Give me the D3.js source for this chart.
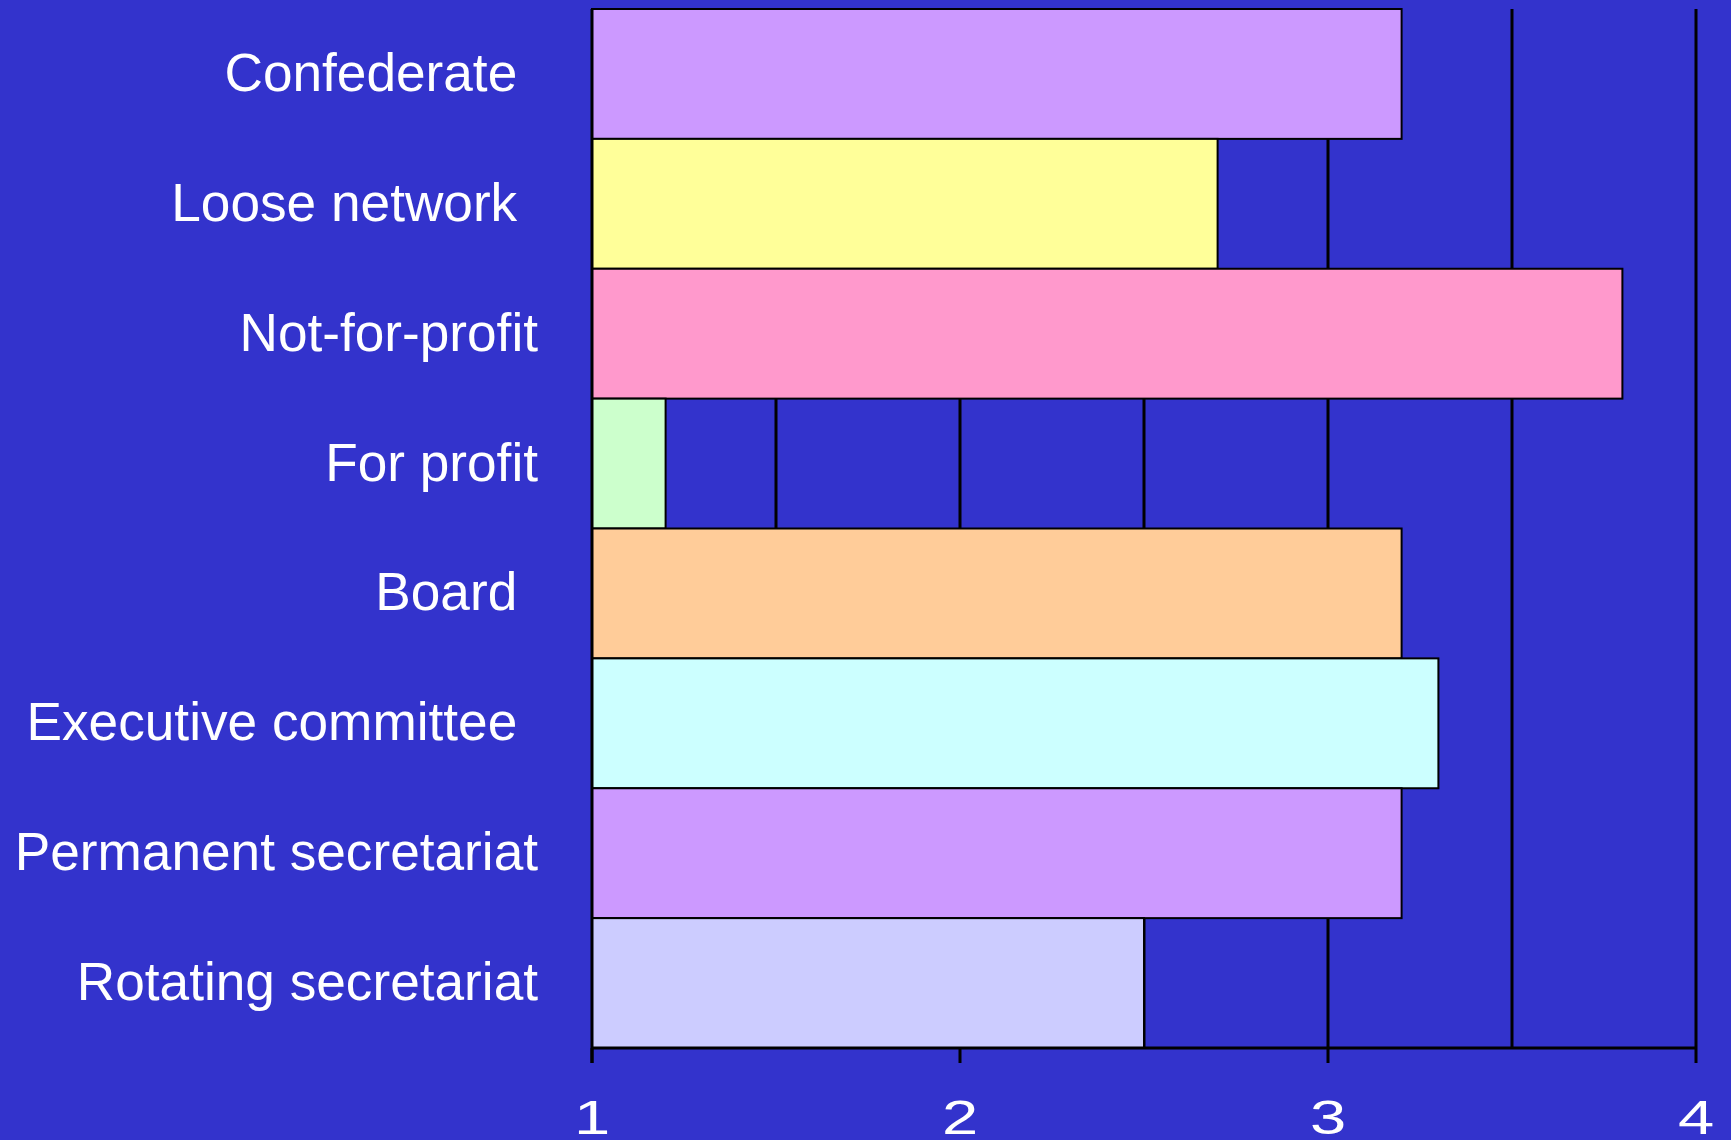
<!DOCTYPE html>
<html>
<head>
<meta charset="utf-8">
<script src="https://cdn.jsdelivr.net/npm/d3@7"></script>
<style>
  html, body { margin: 0; padding: 0; background: #3333CC; }
  svg { display: block; }
  text { font-family: "Liberation Sans", Arial, sans-serif; fill: #fff; }
</style>
</head>
<body>
<svg width="1731" height="1140"></svg>
<script>
// chart data
var categories = ["Confederate", "Loose network", "Not-for-profit", "For profit",
  "Board", "Executive committee", "Permanent secretariat", "Rotating secretariat"];
// trailing spaces as they appear in the original labels
var labelText = ["Confederate\u00A0", "Loose network\u00A0", "Not-for-profit", "For profit",
  "Board\u00A0", "Executive committee\u00A0", "Permanent secretariat", "Rotating secretariat"];
var values = [3.2, 2.7, 3.8, 1.2, 3.2, 3.3, 3.2, 2.5];
var barColors = ["#CC99FF", "#FFFF99", "#FF99CC", "#CCFFCC", "#FFCC99", "#CCFFFF", "#CC99FF", "#CCCCFF"];
var tickValues = [1, 2, 3, 4];
var gridValues = [1.5, 2, 2.5, 3, 3.5, 4];

var svg = d3.select("svg");

//plot area edges (note: "top" is reserved on window, so use plot* names)
var plotLeft = 592, plotRight = 1696, plotTop = 9, plotBottom = 1048;

var x = d3.scaleLinear().domain([1, 4]).range([plotLeft, plotRight]);
var y = d3.scaleBand().domain(categories).range([plotTop, plotBottom]).padding(0);

//gridlines behind the bars
svg.append("g")
  .selectAll("line")
  .data(gridValues)
  .enter()
  .append("line")
  .attr("x1", function(d){ return x(d); })
  .attr("x2", function(d){ return x(d); })
  .attr("y1", plotTop)
  .attr("y2", plotBottom)
  .attr("stroke", "#000")
  .attr("stroke-width", 3);

//bars
svg.append("g")
  .selectAll("rect")
  .data(values)
  .enter()
  .append("rect")
  .attr("x", x(1))
  .attr("y", function(d, i){ return y(categories[i]); })
  .attr("width", function(d){ return x(d) - x(1); })
  .attr("height", y.bandwidth())
  .attr("fill", function(d, i){ return barColors[i]; })
  .attr("stroke", "#000")
  .attr("stroke-width", 2);

//category labels
svg.append("g")
  .selectAll("text")
  .data(categories)
  .enter()
  .append("text")
  .attr("x", plotLeft - 54)
  .attr("y", function(d){ return y(d) + y.bandwidth() / 2; })
  .attr("dy", "0.32em")
  .attr("dx", function(d, i){ return labelText[i].slice(-1) === "\u00A0" ? -6 : 0; })
  .attr("text-anchor", "end")
  .style("font-size", "53.2px")
  .text(function(d, i){ return labelText[i]; });

//axes lines
svg.append("line")
  .attr("x1", plotLeft).attr("x2", plotLeft)
  .attr("y1", plotTop).attr("y2", plotBottom + 15)
  .attr("stroke", "#000").attr("stroke-width", 3);

svg.append("line")
  .attr("x1", plotLeft).attr("x2", plotRight)
  .attr("y1", plotBottom).attr("y2", plotBottom)
  .attr("stroke", "#000").attr("stroke-width", 3);

//tick marks and labels
var ticks = svg.append("g")
  .selectAll("g")
  .data(tickValues)
  .enter()
  .append("g")
  .attr("transform", function(d){ return "translate(" + x(d) + ",0)"; });

ticks.append("line")
  .attr("y1", plotBottom).attr("y2", plotBottom + 15)
  .attr("stroke", "#000").attr("stroke-width", 3);

ticks.append("text")
  .attr("transform", "translate(0,1134) scale(1.33,1)")
  .attr("text-anchor", "middle")
  .style("font-size", "49px")
  .text(function(d){ return d; });
</script>
</body>
</html>
